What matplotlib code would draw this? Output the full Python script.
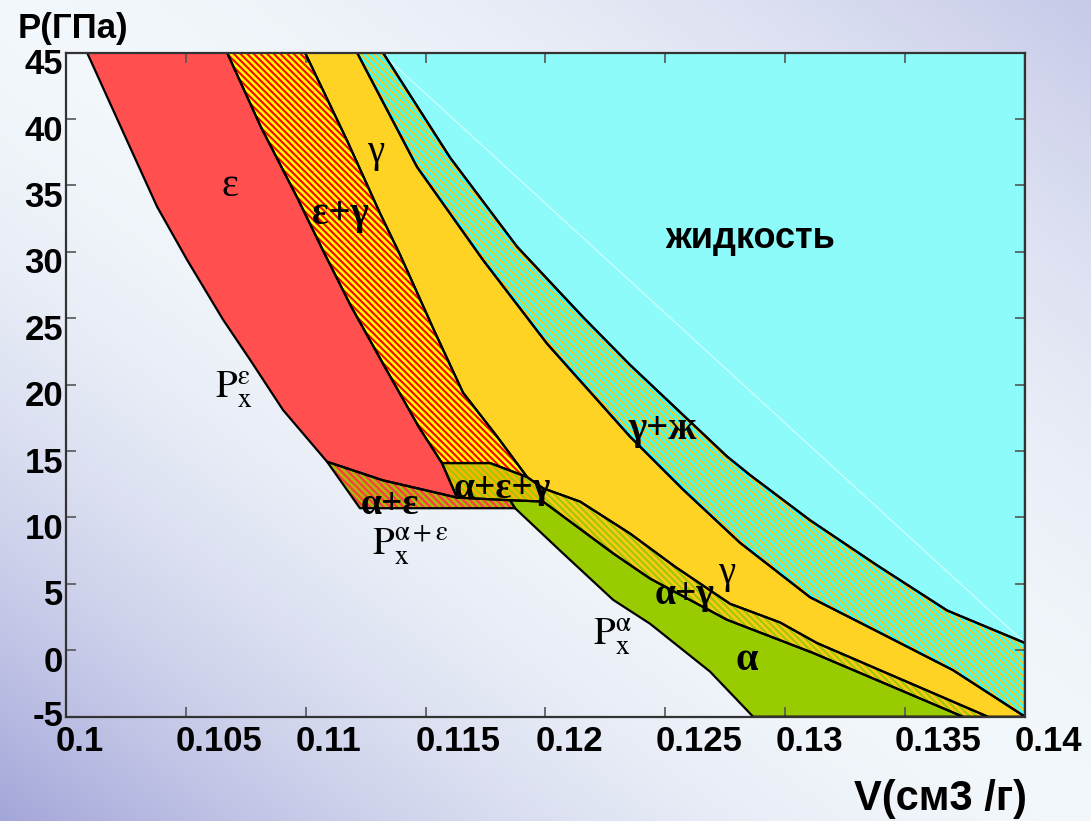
import numpy as np
import matplotlib
matplotlib.use("Agg")
import matplotlib.pyplot as plt
from matplotlib.patches import Polygon
from matplotlib.transforms import ScaledTranslation, blended_transform_factory

# ---------------- axis ticks ----------------
v_ticks = [0.1, 0.105, 0.11, 0.115, 0.12, 0.125, 0.13, 0.135, 0.14]
v_tick_labels = ['0.1', '0.105', '0.11', '0.115', '0.12', '0.125', '0.13', '0.135', '0.14']
p_ticks = [-5, 0, 5, 10, 15, 20, 25, 30, 35, 40, 45]
p_tick_labels = ['-5', '0', '5', '10', '15', '20', '25', '30', '35', '40', '45']

# ---------------- phase boundaries (V, cm3/g ; P, GPa) ----------------
# cold curve of the eps phase  P_x^eps
pxe_V = [0.10088, 0.10254, 0.10380, 0.10505, 0.10655, 0.10767, 0.10905, 0.11089]
pxe_P = [45.0, 38.4, 33.4, 29.4, 24.9, 21.9, 18.1, 14.2]
# lower edge of eps (eps | alpha+eps)
epsl_V = [0.11089, 0.11322, 0.11489, 0.11631]
epsl_P = [14.2, 12.8, 12.1, 11.5]
# eps | eps+gamma
eeg_V = [0.10672, 0.10813, 0.10964, 0.11072, 0.11189, 0.11331, 0.11472, 0.11568, 0.11631]
eeg_P = [45.0, 39.4, 34.1, 30.1, 25.9, 21.3, 16.8, 14.1, 11.5]
# eps+gamma | gamma
egg_V = [0.10997, 0.11172, 0.11310, 0.11393, 0.11535, 0.11656, 0.11798, 0.11923]
egg_P = [45.0, 38.4, 32.9, 29.8, 24.1, 19.4, 16.1, 13.05]
# upper and lower edges of the alpha+eps+gamma triangle
aegt_V = [0.11568, 0.11769, 0.11923, 0.11990]
aegt_P = [14.1, 14.1, 13.05, 12.2]
aegb_V = [0.11990, 0.11852, 0.11631]
aegb_P = [11.2, 11.3, 11.5]
# bottom of the alpha+eps strip  (P_x^{alpha+eps})
ae_V = [0.11226, 0.11873]
ae_P = [10.7, 10.7]
# gamma | gamma+liquid
ggl_V = [0.11214, 0.11464, 0.11739, 0.12006, 0.12352, 0.12574, 0.12811, 0.13103, 0.13408, 0.13700, 0.14]
ggl_P = [45.0, 36.4, 29.4, 23.1, 16.1, 12.1, 8.1, 4.0, 1.2, -1.5, -5.0]
# gamma+liquid | liquid
gll_V = [0.11322, 0.11602, 0.11881, 0.12156, 0.12352, 0.12757, 0.12853, 0.13103, 0.13383, 0.13675, 0.14]
gll_P = [45.0, 37.1, 30.4, 25.1, 21.5, 14.6, 13.2, 9.8, 6.4, 3.0, 0.55]
# gamma | alpha+gamma
gag_V = [0.11990, 0.12144, 0.12352, 0.12540, 0.12770, 0.12978, 0.13132, 0.13845]
gag_P = [12.2, 11.2, 8.8, 6.3, 3.5, 2.1, 0.55, -5.0]
# alpha+gamma | alpha
aga_V = [0.11990, 0.12282, 0.12436, 0.12757, 0.13116, 0.13741]
aga_P = [11.2, 7.3, 5.4, 2.3, -0.2, -5.0]
# cold curve of the alpha phase  P_x^alpha
pxa_V = [0.11873, 0.12073, 0.12282, 0.12436, 0.12686, 0.12866]
pxa_P = [10.7, 7.3, 3.8, 2.0, -1.6, -5.0]

V_MIN, V_MAX, P_MIN, P_MAX = 0.1, 0.14, -5.0, 45.0


def pts(V, P):
    return list(zip(V, P))


# ---------------- figure & background ----------------
W, H, DPI = 1091, 821, 100
fig = plt.figure(figsize=(W / DPI, H / DPI), dpi=DPI)

xx, yy = np.meshgrid(np.linspace(0, 1, W), np.linspace(0, 1, H))
t = xx - yy                       # >0 towards top-right, <0 towards bottom-left
s = np.clip(np.abs(t), 0, 1) ** 1.8
c0 = np.array([0.95, 0.97, 0.985])
c_bl = np.array([0.64, 0.65, 0.85])
c_tr = np.array([0.78, 0.79, 0.91])
cend = np.where(t[..., None] < 0, c_bl, c_tr)
bg = c0 * (1 - s[..., None]) + cend * s[..., None]
fig.figimage(bg, xo=0, yo=0, origin='upper', zorder=-10)

ax = fig.add_axes([66 / W, 1 - 716.7 / H, 959 / W, 664 / H])
ax.set_zorder(1)
ax.set_facecolor('none')
ax.set_xlim(V_MIN, V_MAX)
ax.set_ylim(P_MIN, P_MAX)

plt.rcParams['hatch.linewidth'] = 1.5
HATCH = '\\' * 5

# ---------------- regions ----------------
eps = pts(pxe_V, pxe_P) + pts(epsl_V[1:], epsl_P[1:]) + pts(eeg_V[::-1], eeg_P[::-1])[1:]
eps_gam = pts(eeg_V[:-1], eeg_P[:-1]) + pts(aegt_V[1:3], aegt_P[1:3]) + pts(egg_V[::-1], egg_P[::-1])[1:]
aeg = pts(aegt_V, aegt_P) + pts(aegb_V, aegb_P)
gam = pts(egg_V, egg_P) + pts(gag_V, gag_P) + [(V_MAX, P_MIN)] + pts(ggl_V[::-1], ggl_P[::-1])
gam_liq = pts(ggl_V, ggl_P) + pts(gll_V[::-1], gll_P[::-1])
liq = pts(gll_V, gll_P) + [(V_MAX, P_MAX)]
alp_eps = [(pxe_V[-1], pxe_P[-1])] + pts(ae_V, ae_P) + pts(aegb_V[1:], aegb_P[1:]) + pts(epsl_V[-2:0:-1], epsl_P[-2:0:-1])
alp = pts(pxa_V, pxa_P) + pts(aga_V[::-1], aga_P[::-1]) + [(aegb_V[1], aegb_P[1])]
alp_gam = pts(aga_V, aga_P) + pts(gag_V[::-1], gag_P[::-1])

solid = [
    (eps, '#FF4F4F'),
    (gam, '#FFD324'),
    (liq, '#8EFBFB'),
    (alp, '#99CC00'),
]
hatched = [
    (eps_gam, '#FFFF00', '#FF0000'),
    (gam_liq, '#33FFFF', '#FFC61A'),
    (alp_gam, '#FFC61A', '#99CC00'),
    (alp_eps, '#FF4040', '#99CC00'),
    (aeg, '#FFB000', '#99CC00'),
]

for verts, col in solid:
    ax.add_patch(Polygon(verts, closed=True, facecolor=col, edgecolor='none', lw=0, zorder=1))
for verts, face, hcol in hatched:
    ax.add_patch(Polygon(verts, closed=True, facecolor=face, edgecolor=hcol, lw=0,
                         hatch=HATCH, zorder=1))

# faint triangulation seam inside the liquid field
ax.plot([gll_V[0] + 0.00004, V_MAX], [P_MAX - 0.2, gll_P[-1]], color='#F4FFFF', lw=0.8,
        alpha=0.7, zorder=1.2)

for verts in [eps, eps_gam, aeg, gam, gam_liq, liq, alp_eps, alp, alp_gam]:
    ax.add_patch(Polygon(verts, closed=True, fill=False, edgecolor='black', lw=1.6,
                         joinstyle='round', zorder=2))

# ---------------- axes styling ----------------
for sp in ax.spines.values():
    sp.set_color('#333333')
    sp.set_linewidth(1.6)
    sp.set_zorder(3)
ax.set_xticks(v_ticks)
ax.set_yticks(p_ticks)
ax.tick_params(direction='in', length=7, width=1.2, color='#555555',
               top=True, right=True, labelbottom=False, labelleft=False)

tick_font = dict(family='Liberation Sans', weight='bold', size=25, color='black')
xtr = blended_transform_factory(ax.transData, ax.transAxes) + \
    ScaledTranslation(-10 / DPI, -8 / DPI, fig.dpi_scale_trans)
for v, lab in zip(v_ticks, v_tick_labels):
    ax.text(v, 0, lab, transform=xtr, ha='left', va='top', clip_on=False, **tick_font)
for p, lab in zip(p_ticks, p_tick_labels):
    dy = -12 if p > P_MIN else 0
    ytr = blended_transform_factory(ax.transAxes, ax.transData) + \
        ScaledTranslation(-3 / DPI, dy / DPI, fig.dpi_scale_trans)
    ax.text(0, p, lab, transform=ytr, ha='right', va='center', clip_on=False, **tick_font)

fig.text(18 / W, 1 - 38 / H, 'P(ГПа)', ha='left', va='baseline',
         family='Liberation Sans', weight='bold', size=25)
fig.text(1027 / W, 1 - 810 / H, 'V(см3 /г)', ha='right', va='baseline',
         family='Liberation Sans', weight='bold', size=30)

# ---------------- region labels ----------------
plt.rcParams['mathtext.fontset'] = 'stix'
greek = dict(family='Liberation Serif', ha='center', va='center', zorder=4)
ax.text(0.10684, 34.9, 'ε', size=29, **greek)
ax.text(0.11143, 32.8, 'ε+γ', size=28, weight='bold', **greek)
ax.text(0.11293, 37.5, 'γ', size=28, **greek)
ax.text(0.12486, 16.6, 'γ+ж', size=28, weight='bold', **greek)
ax.text(0.11819, 12.2, 'α+ε+γ', size=27, weight='bold', **greek)
ax.text(0.11351, 11.0, 'α+ε', size=27, weight='bold', **greek)
ax.text(0.12582, 4.2, 'α+γ', size=27, weight='bold', **greek)
ax.text(0.12757, 5.75, 'γ', size=28, **greek)
ax.text(0.12840, -0.74, 'α', size=29, weight='bold', **greek)
ax.text(0.12853, 31.0, 'жидкость', family='Liberation Sans', weight='bold', size=26,
        ha='center', va='center', zorder=4)

ax.text(0.10621, 19.0, r'$\mathrm{P}_{\mathrm{x}}^{\mathrm{\varepsilon}}$', size=28,
        ha='left', va='baseline', zorder=4)
ax.text(0.11276, 7.18, r'$\mathrm{P}_{\mathrm{x}}^{\mathrm{\alpha+\varepsilon}}$', size=28,
        ha='left', va='baseline', zorder=4)
ax.text(0.12198, 0.40, r'$\mathrm{P}_{\mathrm{x}}^{\mathrm{\alpha}}$', size=28,
        ha='left', va='baseline', zorder=4)

fig.savefig('out.png', dpi=DPI)
